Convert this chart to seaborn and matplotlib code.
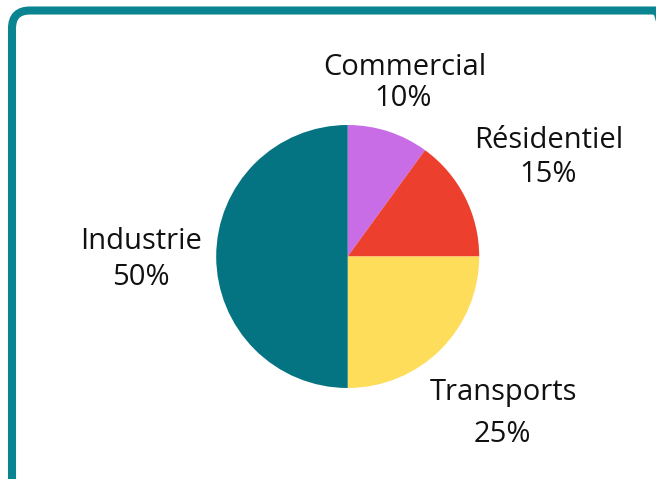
import matplotlib
matplotlib.use("Agg")
import matplotlib.pyplot as plt
from matplotlib.patches import FancyBboxPatch
import seaborn as sns

# Energy consumption share by sector
sectors = ["Commercial", "Résidentiel", "Transports", "Industrie"]
shares = [10, 15, 25, 50]
colors = ["#C86DE6", "#EC3F2E", "#FEDD5A", "#047482"]

sns.set_theme(style="white")
plt.rcParams["font.family"] = ["Open Sans", "DejaVu Sans"]

W, H = 656, 479
fig = plt.figure(figsize=(W / 100, H / 100), dpi=100)
ax = fig.add_axes([0, 0, 1, 1])
ax.set_xlim(0, W)
ax.set_ylim(0, H)
ax.set_axis_off()


def yp(y):
    """Convert a top-down pixel row into the axes' bottom-up coordinate."""
    return H - y


# Rounded frame around the card (runs past the right and bottom edges)
frame = FancyBboxPatch((12, yp(496)), 661, 485.5,
                       boxstyle="round,pad=0,rounding_size=18",
                       linewidth=5.8, edgecolor="#0A8490", facecolor="none")
ax.add_patch(frame)

# Pie, clockwise from twelve o'clock
ax.pie(shares, colors=sns.color_palette(colors), startangle=90, counterclock=False,
       center=(347.7, yp(256.5)), radius=131.5,
       wedgeprops=dict(linewidth=0))
ax.set_xlim(0, W)
ax.set_ylim(0, H)
ax.set_aspect("equal")

# Sector labels: name on one line, percentage below
label_pos = {
    "Commercial":  ((405, 75), (403.5, 106)),
    "Résidentiel": ((549, 148), (548.5, 182)),
    "Transports":  ((503, 400), (502, 442)),
    "Industrie":   ((141, 249), (140.5, 285)),
}
fs = 21
for name, val in zip(sectors, shares):
    (nx, ny), (px, py) = label_pos[name]
    ax.text(nx, yp(ny), name, ha="center", va="baseline", fontsize=fs, color="#111111")
    ax.text(px, yp(py), f"{val}%", ha="center", va="baseline", fontsize=fs, color="#111111")

fig.savefig("out.png", dpi=100)
